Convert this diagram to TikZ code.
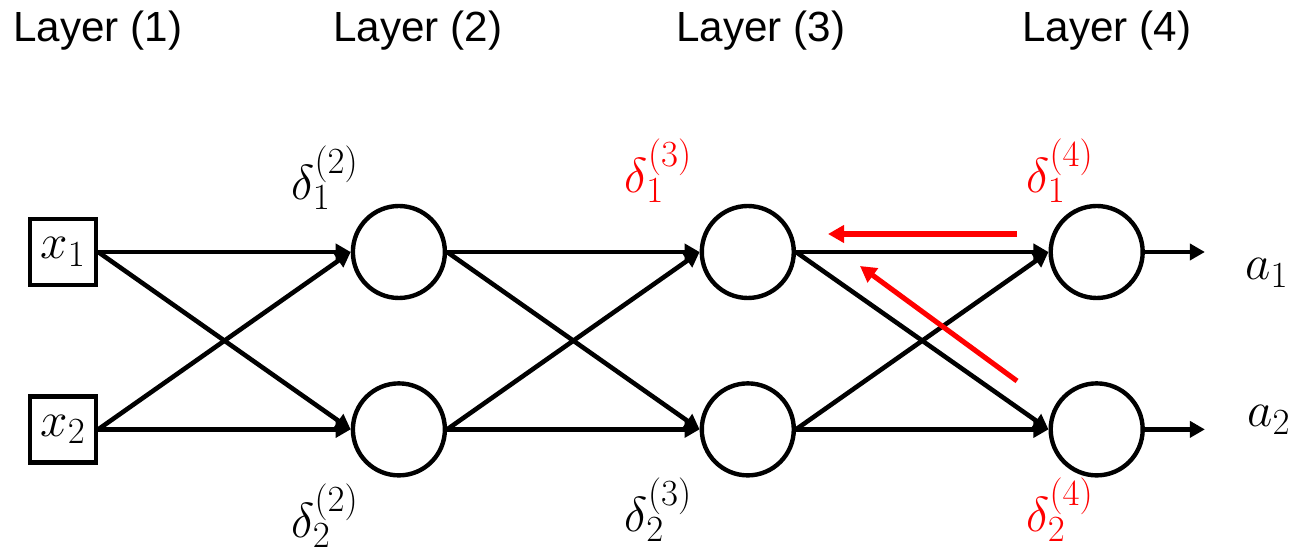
\documentclass[tikz,border=0pt]{standalone}
\usepackage{fix-cm}
\usepackage{fontspec}
\newfontfamily\layerfont{Liberation Sans}
\usetikzlibrary{positioning, arrows.meta}
\definecolor{Ink}{HTML}{000000}
\definecolor{Signal}{HTML}{FF0000}
\DeclareMathSizes{28}{28}{21}{16}
\newcommand{\mathsize}{\fontsize{28}{33}\selectfont}
\tikzset{
    unit/.style={circle, draw=Ink, line width=2.5pt, minimum size=1.84cm, inner sep=0pt},
    inbox/.style={rectangle, draw=Ink, line width=2.5pt, minimum size=1.32cm, inner sep=0pt, font=\mathsize},
    layertitle/.style={anchor=base west, inner sep=0pt, font=\layerfont\fontsize{24}{28}\selectfont, text=Ink},
    deltalabel/.style={anchor=base, inner sep=0pt, font=\mathsize, text=Ink},
    hotlabel/.style={deltalabel, text=Signal},
    link/.style={-{Triangle[length=0.3cm, width=0.32cm]}, line width=2.6pt, color=Ink},
    backarrow/.style={-{Triangle[length=0.32cm, width=0.34cm]}, line width=2.9pt, color=Signal},
}
\begin{document}
\begin{tikzpicture}[node distance=1.62cm and 5.05cm]
        \useasboundingbox (0,0) rectangle (25.84,11.06);

        \node[layertitle] (title1) at (0.26,10.22) {Layer (1)};
        \node[layertitle] (title2) at (6.66,10.22) {Layer (2)};
        \node[layertitle] (title3) at (13.52,10.22) {Layer (3)};
        \node[layertitle] (title4) at (20.44,10.22) {Layer (4)};

        \node[inbox] (in1) at (1.26,6.02) {$x_1$};
        \node[unit, right=of in1] (h21) {};
        \node[unit, below=of h21] (h22) {};
        \node[inbox, left=of h22] (in2) {$x_2$};
        \node[unit, right=of h21] (h31) {};
        \node[unit, right=of h22] (h32) {};
        \node[unit, right=of h31] (out1) {};
        \node[unit, right=of h32] (out2) {};
        \coordinate[right=1.2cm of out1] (y1);
        \coordinate[right=1.2cm of out2] (y2);

        \node[deltalabel] (d21) at (6.5,7.06) {$\delta_1^{(2)}$};
        \node[deltalabel] (d22) at (6.5,0.3) {$\delta_2^{(2)}$};
        \node[hotlabel] (d31) at (13.17,7.2) {$\delta_1^{(3)}$};
        \node[deltalabel] (d32) at (13.17,0.42) {$\delta_2^{(3)}$};
        \node[hotlabel] (d41) at (21.2,7.2) {$\delta_1^{(4)}$};
        \node[hotlabel] (d42) at (21.2,0.42) {$\delta_2^{(4)}$};
        \node[deltalabel, anchor=base west] (a1) at (24.9,5.46) {$a_1$};
        \node[deltalabel, anchor=base west] (a2) at (24.94,2.52) {$a_2$};

        \draw[link] (in1.east) -- (h21.west);
        \draw[link] (in1.east) -- (h22.west);
        \draw[link] (in2.east) -- (h21.west);
        \draw[link] (in2.east) -- (h22.west);
        \draw[link] (h21.east) -- (h31.west);
        \draw[link] (h21.east) -- (h32.west);
        \draw[link] (h22.east) -- (h31.west);
        \draw[link] (h22.east) -- (h32.west);
        \draw[link] (h31.east) -- (out1.west);
        \draw[link] (h31.east) -- (out2.west);
        \draw[link] (h32.east) -- (out1.west);
        \draw[link] (h32.east) -- (out2.west);
        \draw[link] (out1.east) -- (y1);
        \draw[link] (out2.east) -- (y2);

        \coordinate (back1) at (20.34,6.38);
        \coordinate (back1end) at (16.56,6.38);
        \coordinate (back2) at (20.34,3.44);
        \coordinate (back2end) at (17.2,5.74);
        \draw[backarrow] (back1) -- (back1end);
        \draw[backarrow] (back2) -- (back2end);
    \end{tikzpicture}
\end{document}
